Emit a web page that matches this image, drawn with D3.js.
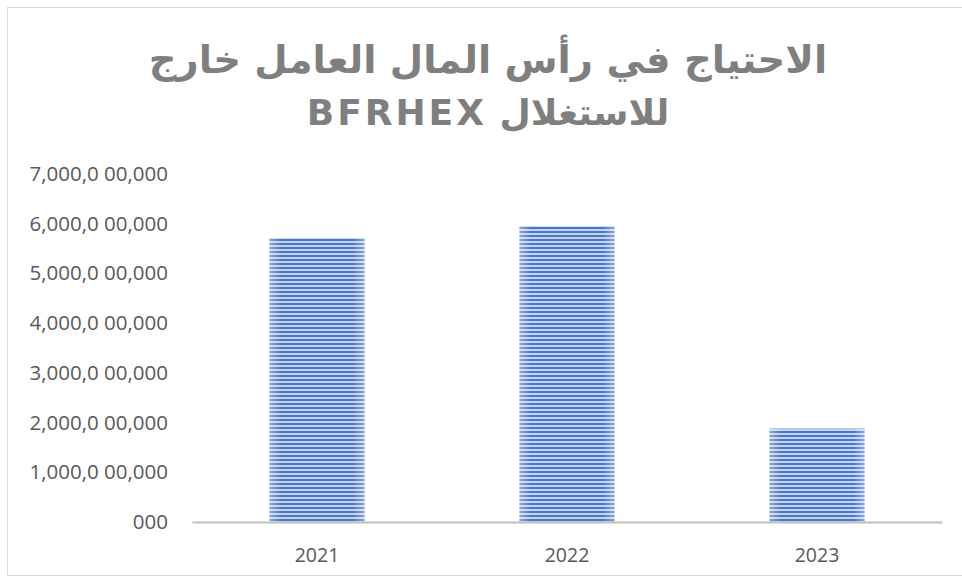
<!DOCTYPE html>
<head>
  <meta charset="utf-8">
  <title>BFRHEX</title>
  <style>
  body { margin: 0; background: #fff; }
  .title {
    font-family: "DejaVu Sans", sans-serif;
    font-weight: bold;
    font-size: 36px;
    fill: #7f7f7f;
  }
  .axis text {
    font-family: "Open Sans", "Noto Sans", sans-serif;
    font-size: 19.5px;
    fill: #595959;
  }
  .axis--y text { font-size: 20.5px; }
  .axis--y path, .axis--y line, .axis--x line { display: none; }
  .axis--x path { stroke: #bfbfbf; stroke-width: 2; }
  </style>
</head>
<body>
<svg id="vis1" class="chart"></svg>

<script src="https://cdn.jsdelivr.net/npm/d3@7"></script>
<script>
"use strict";

// dados
var years = ["2021", "2022", "2023"];
var bfrhex = [5710000000, 5950000000, 1880000000];
var yTicks = [0, 1000000000, 2000000000, 3000000000, 4000000000, 5000000000, 6000000000, 7000000000];
var yTickLabels = ["000", "1,000,0 00,000", "2,000,0 00,000", "3,000,0 00,000", "4,000,0 00,000",
                   "5,000,0 00,000", "6,000,0 00,000", "7,000,0 00,000"];
var titleLines = ["الاحتياج في رأس المال العامل خارج", "للاستغلال BFRHEX"];

var totalWidth = 962,
    totalHeight = 578;

var chart1 = d3.select("#vis1")
    .attr("width", totalWidth)
    .attr("height", totalHeight);

// moldura do gráfico
chart1.append("rect")
    .attr("x", 7.5).attr("y", 7.5)
    .attr("width", 1000).attr("height", 568)
    .attr("fill", "none")
    .attr("stroke", "#d9d9d9");

var margin = {top: 174, right: 20, bottom: 55, left: 192},
  width = totalWidth - margin.left - margin.right,
  height = totalHeight - margin.top - margin.bottom - 1;

var g = chart1.append("g")
  .attr("transform", "translate(" + margin.left + "," + margin.top + ")");

// padrão listrado das barras
var defs = chart1.append("defs");
var pat = defs.append("pattern")
    .attr("id", "stripes")
    .attr("patternUnits", "userSpaceOnUse")
    .attr("width", 8).attr("height", 4);
pat.append("rect").attr("width", 8).attr("height", 4).attr("fill", "#c3d3ef");
pat.append("rect").attr("y", 1).attr("width", 8).attr("height", 2).attr("fill", "#4a76c9");

var edge = defs.append("linearGradient").attr("id", "edge");
edge.append("stop").attr("offset", "0%").attr("stop-color", "#fff").attr("stop-opacity", 0.35);
edge.append("stop").attr("offset", "12%").attr("stop-color", "#fff").attr("stop-opacity", 0);
edge.append("stop").attr("offset", "88%").attr("stop-color", "#fff").attr("stop-opacity", 0);
edge.append("stop").attr("offset", "100%").attr("stop-color", "#fff").attr("stop-opacity", 0.35);

// escalas
var y = d3.scaleLinear()
    .domain([0, 7000000000])
    .range([height, 0]);

var x = d3.scaleBand()
    .domain(years)
    .range([0, width])
    .paddingInner(0.62)
    .paddingOuter(0.31);

// eixos
g.append("g")
    .attr("class", "axis axis--y")
    .attr("transform", "translate(-21,0)")
    .call(d3.axisLeft(y).tickValues(yTicks)
      .tickFormat(function(d, i) { return yTickLabels[i]; }).tickSize(0));

var data = years.map(function(k, i) { return {year: k, value: bfrhex[i]}; });

var bar = g.selectAll(".bar")
    .data(data)
  .enter().append("g")
    .attr("class", "bar")
    .attr("transform", function(d) { return "translate(" + x(d.year) + ",0)"; });

bar.append("rect")
    .attr("y", function(d) { return y(d.value); })
    .attr("height", function(d) { return height - y(d.value); })
    .attr("width", x.bandwidth())
    .attr("fill", "url(#stripes)");

bar.append("rect")
    .attr("y", function(d) { return y(d.value); })
    .attr("height", function(d) { return height - y(d.value); })
    .attr("width", x.bandwidth())
    .attr("fill", "url(#edge)");

g.append("g")
    .attr("class", "axis axis--x")
    .attr("transform", "translate(0," + height + ")")
    .call(d3.axisBottom(x).tickSize(0).tickPadding(26).tickSizeOuter(0));

// título
chart1.selectAll(".title")
    .data(titleLines)
  .enter().append("text")
    .attr("class", "title")
    .attr("x", 488)
    .attr("y", function(d, i) { return 73 + i * 52; })
    .attr("text-anchor", "middle")
    .attr("direction", "rtl")
    .style("font-size", function(d, i) { return i === 0 ? "38.5px" : "36px"; })
    .style("letter-spacing", function(d, i) { return i === 1 ? "3px" : "0px"; })
    .text(function(d) { return d; });
</script>
</body>
